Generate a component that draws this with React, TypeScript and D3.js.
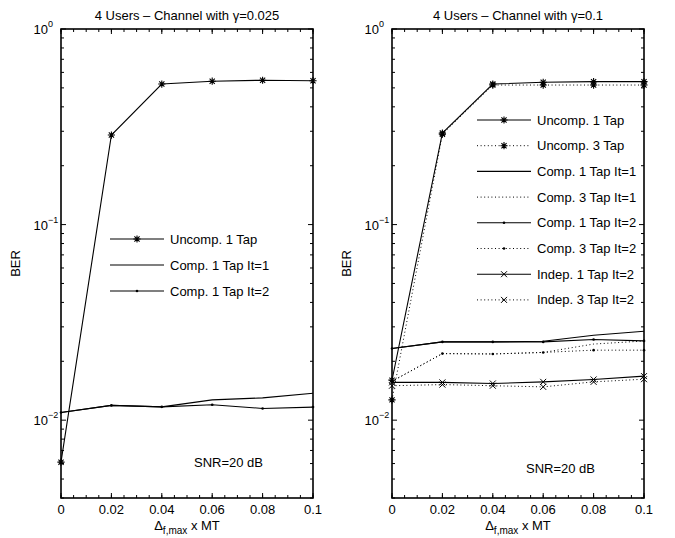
import * as d3 from 'd3';

const xValues = [0, 0.02, 0.04, 0.06, 0.08, 0.1];
const xTickLabels = ['0', '0.02', '0.04', '0.06', '0.08', '0.1'];

// left panel, gamma = 0.025
const leftUncomp1 = [0.0061, 0.287, 0.523, 0.541, 0.547, 0.544];
const leftComp1It1 = [0.01095, 0.0119, 0.0117, 0.0127, 0.013, 0.01374];
const leftComp1It2 = [0.01095, 0.0119, 0.0117, 0.012, 0.01148, 0.01166];

// right panel, gamma = 0.1
const rightUncomp1 = [0.016, 0.294, 0.523, 0.534, 0.538, 0.538];
const rightUncomp3 = [0.0127, 0.29, 0.517, 0.517, 0.517, 0.517];
const rightComp1It1 = [0.02326, 0.02513, 0.02513, 0.0253, 0.0272, 0.02851];
const rightComp3It1 = [0.0158, 0.0219, 0.0218, 0.0222, 0.0245, 0.0254];
const rightComp1It2 = [0.02326, 0.02513, 0.02513, 0.02513, 0.02585, 0.02543];
const rightComp3It2 = [0.0158, 0.0219, 0.0218, 0.0222, 0.0228, 0.0228];
const rightIndep1It2 = [0.0156, 0.0156, 0.0154, 0.0157, 0.01615, 0.0168];
const rightIndep3It2 = [0.015, 0.0152, 0.015, 0.0148, 0.0157, 0.0162];

type Marker = 'star' | 'dot' | 'x' | 'none';
interface Series {
  name: string;
  values: number[];
  dotted: boolean;
  marker: Marker;
}

const leftSeries: Series[] = [
  { name: 'Uncomp. 1 Tap', values: leftUncomp1, dotted: false, marker: 'star' },
  { name: 'Comp. 1 Tap It=1', values: leftComp1It1, dotted: false, marker: 'none' },
  { name: 'Comp. 1 Tap It=2', values: leftComp1It2, dotted: false, marker: 'dot' },
];

const rightSeries: Series[] = [
  { name: 'Uncomp. 1 Tap', values: rightUncomp1, dotted: false, marker: 'star' },
  { name: 'Uncomp. 3 Tap', values: rightUncomp3, dotted: true, marker: 'star' },
  { name: 'Comp. 1 Tap It=1', values: rightComp1It1, dotted: false, marker: 'none' },
  { name: 'Comp. 3 Tap It=1', values: rightComp3It1, dotted: true, marker: 'none' },
  { name: 'Comp. 1 Tap It=2', values: rightComp1It2, dotted: false, marker: 'dot' },
  { name: 'Comp. 3 Tap It=2', values: rightComp3It2, dotted: true, marker: 'dot' },
  { name: 'Indep. 1 Tap It=2', values: rightIndep1It2, dotted: false, marker: 'x' },
  { name: 'Indep. 3 Tap It=2', values: rightIndep3It2, dotted: true, marker: 'x' },
];

const yMajor = [1, 0.1, 0.01];
const yMajorExp = ['0', '\u22121', '\u22122'];

const FONT = 'Liberation Sans, Arial, Helvetica, sans-serif';
const TOP = 29;
const BOTTOM = 498;

const MarkerGlyph = ({ kind, x, y }: { kind: Marker; x: number; y: number }) => {
  if (kind === 'star') {
    const r = 3.6;
    const d = r * 0.72;
    return (
      <path
        d={`M${x - r},${y}H${x + r}M${x},${y - r}V${y + r}M${x - d},${y - d}L${x + d},${y + d}M${x - d},${y + d}L${x + d},${y - d}`}
        stroke="#000"
        strokeWidth={1.1}
        fill="none"
      />
    );
  }
  if (kind === 'x') {
    const d = 3;
    return (
      <path
        d={`M${x - d},${y - d}L${x + d},${y + d}M${x - d},${y + d}L${x + d},${y - d}`}
        stroke="#000"
        strokeWidth={1}
        fill="none"
      />
    );
  }
  if (kind === 'dot') return <circle cx={x} cy={y} r={1.3} fill="#000" />;
  return null;
};

interface PanelProps {
  left: number;
  right: number;
  title: string;
  series: Series[];
  legendX: number;
  legendY: number;
  legendStep: number;
  snrX: number;
  snrY: number;
}

const Panel = ({ left, right, title, series, legendX, legendY, legendStep, snrX, snrY }: PanelProps) => {
  const x = d3.scaleLinear().domain([0, 0.1]).range([left, right]);
  const y = d3.scaleLog().domain([0.004, 1]).range([BOTTOM, TOP]);
  const line = d3
    .line<number>()
    .x((_, i) => x(xValues[i]))
    .y((v) => y(v));

  const xMinor = d3.range(0, 0.1001, 0.005);
  const yMinor: number[] = [];
  [0.001, 0.01, 0.1].forEach((b) => {
    for (let k = 2; k <= 9; k++) {
      const v = b * k;
      if (v >= 0.004 && v < 1) yMinor.push(v);
    }
  });
  const cx = (left + right) / 2;

  return (
    <g fontFamily={FONT}>
      <text x={cx} y={20} textAnchor="middle" fontSize={13}>
        {title}
      </text>

      {/* ticks */}
      {xMinor.map((v, i) => (
        <g key={'xm' + i} stroke="#000" strokeWidth={1}>
          <line x1={x(v)} x2={x(v)} y1={BOTTOM} y2={BOTTOM - 3} />
          <line x1={x(v)} x2={x(v)} y1={TOP} y2={TOP + 3} />
        </g>
      ))}
      {xValues.map((v, i) => (
        <g key={'xM' + i}>
          <line x1={x(v)} x2={x(v)} y1={BOTTOM} y2={BOTTOM - 5} stroke="#000" />
          <line x1={x(v)} x2={x(v)} y1={TOP} y2={TOP + 5} stroke="#000" />
          <text x={x(v)} y={BOTTOM + 16} textAnchor="middle" fontSize={13}>
            {xTickLabels[i]}
          </text>
        </g>
      ))}
      {yMinor.map((v, i) => (
        <g key={'ym' + i} stroke="#000" strokeWidth={1}>
          <line x1={left} x2={left + 3} y1={y(v)} y2={y(v)} />
          <line x1={right} x2={right - 3} y1={y(v)} y2={y(v)} />
        </g>
      ))}
      {yMajor.map((v, i) => (
        <g key={'yM' + i}>
          <line x1={left} x2={left + 5} y1={y(v)} y2={y(v)} stroke="#000" />
          <line x1={right} x2={right - 5} y1={y(v)} y2={y(v)} stroke="#000" />
          <text x={left - 13} y={y(v) + 5} textAnchor="end" fontSize={13}>
            10
          </text>
          <text x={left - 13} y={y(v) - 2} textAnchor="start" fontSize={9}>
            {yMajorExp[i]}
          </text>
        </g>
      ))}

      {/* series */}
      {series.map((s, si) => (
        <g key={'s' + si}>
          <path
            d={line(s.values) || ''}
            fill="none"
            stroke="#000"
            strokeWidth={s.dotted ? 1 : 1.1}
            strokeDasharray={s.dotted ? '1 2.6' : undefined}
          />
          {s.values.map((v, i) => (
            <MarkerGlyph key={i} kind={s.marker} x={x(xValues[i])} y={y(v)} />
          ))}
        </g>
      ))}

      {/* legend */}
      {series.map((s, si) => {
        const ly = legendY + si * legendStep;
        return (
          <g key={'l' + si}>
            <line
              x1={legendX}
              x2={legendX + 54}
              y1={ly}
              y2={ly}
              stroke="#000"
              strokeWidth={s.dotted ? 1 : 1.1}
              strokeDasharray={s.dotted ? '1 2.6' : undefined}
            />
            <MarkerGlyph kind={s.marker} x={legendX + 27} y={ly} />
            <text x={legendX + 60} y={ly + 4.5} fontSize={13}>
              {s.name}
            </text>
          </g>
        );
      })}

      <text x={snrX} y={snrY} fontSize={13}>
        SNR=20 dB
      </text>

      {/* axis labels */}
      <text x={cx} y={530} textAnchor="middle" fontSize={13}>
        {'\u0394'}
        <tspan dy={4} fontSize={10}>
          f,max
        </tspan>
        <tspan dy={-4}> x MT</tspan>
      </text>
      <text
        transform={`translate(${left - 41},${(TOP + BOTTOM) / 2}) rotate(-90)`}
        textAnchor="middle"
        fontSize={13}
      >
        BER
      </text>

      <rect
        x={left}
        y={TOP}
        width={right - left}
        height={BOTTOM - TOP}
        fill="none"
        stroke="#000"
        strokeWidth={1.6}
      />
    </g>
  );
};

export default function App() {
  return (
    <div style={{ position: 'absolute', left: 0, top: 0 }}>
      <svg width={675} height={538} style={{ display: 'block', background: '#fff' }}>
        <Panel
          left={61}
          right={313}
          title={'4 Users \u2013 Channel with \u03b3=0.025'}
          series={leftSeries}
          legendX={110}
          legendY={239}
          legendStep={26}
          snrX={194}
          snrY={467}
        />
        <Panel
          left={392}
          right={644}
          title={'4 Users \u2013 Channel with \u03b3=0.1'}
          series={rightSeries}
          legendX={477}
          legendY={120}
          legendStep={25.7}
          snrX={526}
          snrY={473}
        />
      </svg>
    </div>
  );
}
